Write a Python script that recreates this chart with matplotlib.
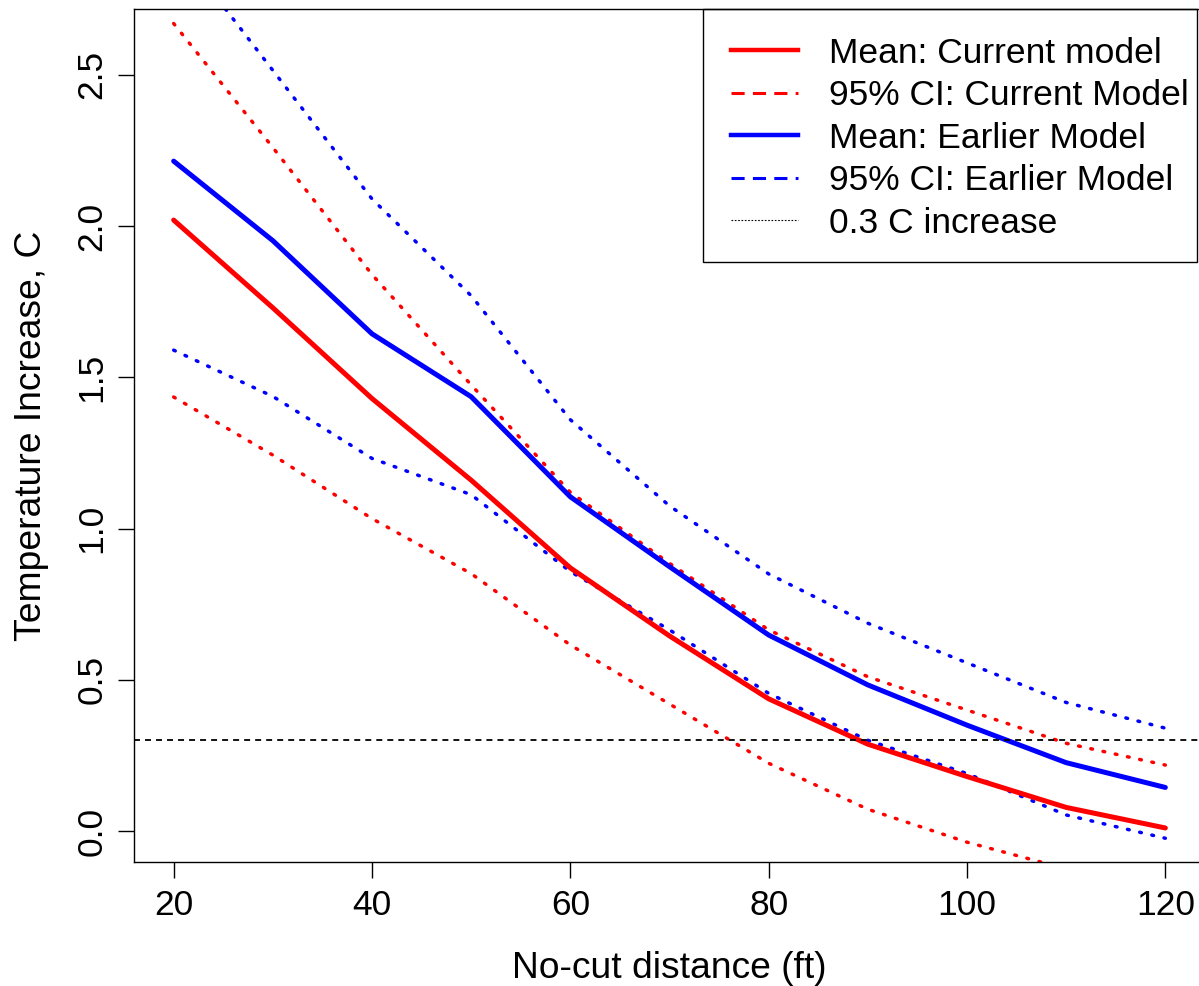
import matplotlib
matplotlib.use("Agg")
import matplotlib.pyplot as plt
from matplotlib.lines import Line2D
from matplotlib.patches import Rectangle

plt.rcParams["font.family"] = ["Liberation Sans", "DejaVu Sans"]

# no-cut distance (ft)
distance = [20, 30, 40, 50, 60, 70, 80, 90, 100, 110, 120]

# current model
mean_current = [2.02, 1.73, 1.43, 1.16, 0.87, 0.645, 0.437, 0.287, 0.180, 0.078, 0.010]
upper_current = [2.67, 2.26, 1.84, 1.475, 1.12, 0.885, 0.665, 0.51, 0.40, 0.29, 0.218]
lower_current = [1.435, 1.243, 1.033, 0.851, 0.615, 0.42, 0.224, 0.072, -0.037, -0.125, -0.21]

# earlier model
mean_earlier = [2.215, 1.952, 1.644, 1.436, 1.105, 0.874, 0.648, 0.483, 0.35, 0.226, 0.144]
upper_earlier = [2.94, 2.515, 2.09, 1.77, 1.36, 1.075, 0.85, 0.687, 0.556, 0.425, 0.34]
lower_earlier = [1.59, 1.437, 1.232, 1.112, 0.858, 0.665, 0.455, 0.30, 0.19, 0.053, -0.024]

threshold = 0.3

legend_labels = ["Mean: Current model", "95% CI: Current Model",
                 "Mean: Earlier Model", "95% CI: Earlier Model", "0.3 C increase"]

fs = 25.5
fs_lab = 26.8
W, H = 1199, 986
fig = plt.figure(figsize=(W / 100, H / 100), dpi=100)
ax = fig.add_axes([134 / W, 124 / H, (1205 - 134) / W, (862 - 9) / H])

ci_style = dict(lw=2.5, linestyle=(0, (0.5, 3.1)), dash_capstyle="round")
ax.plot(distance, upper_current, color="red", **ci_style)
ax.plot(distance, lower_current, color="red", **ci_style)
ax.plot(distance, upper_earlier, color="blue", **ci_style)
ax.plot(distance, lower_earlier, color="blue", **ci_style)
ax.plot(distance, mean_earlier, color="blue", lw=3.6, solid_capstyle="round", solid_joinstyle="round")
ax.plot(distance, mean_current, color="red", lw=3.6, solid_capstyle="round", solid_joinstyle="round")
ax.axhline(threshold, color="black", lw=1.3, linestyle=(0, (3.3, 2.8)))

ax.set_xlim(16, 124)
ax.set_ylim(-0.1025, 2.718)
ax.set_xticks([20, 40, 60, 80, 100, 120])
ax.set_yticks([0.0, 0.5, 1.0, 1.5, 2.0, 2.5])
ax.set_yticklabels(["0.0", "0.5", "1.0", "1.5", "2.0", "2.5"])
ax.tick_params(axis="both", labelsize=fs, length=11.3, width=1.0, direction="out")
ax.tick_params(axis="x", pad=8)
ax.tick_params(axis="y", pad=7, labelrotation=90)
for lab in ax.get_yticklabels():
    lab.set_va("center")
for sp in ax.spines.values():
    sp.set_linewidth(1.0)

ax.set_xlabel("No-cut distance (ft)", fontsize=fs_lab, labelpad=21)
ax.set_ylabel("Temperature Increase, C", fontsize=fs_lab, labelpad=19)

handles = [
    Line2D([], [], color="red", lw=3.2),
    Line2D([], [], color="red", lw=2.2, linestyle=(0, (4.3, 2.7))),
    Line2D([], [], color="blue", lw=3.2),
    Line2D([], [], color="blue", lw=2.2, linestyle=(0, (4.3, 2.7))),
    Line2D([], [], color="black", lw=0.8, linestyle=(0, (1.5, 1.5))),
]
fig.legend(handles, legend_labels, loc="upper left",
           bbox_to_anchor=(703 / W, (H - 9) / H), fontsize=fs,
           frameon=False, handlelength=1.89, handletextpad=0.88,
           labelspacing=0.27, borderpad=0.78, borderaxespad=0)
# legend box, flush with the top of the plot
fig.patches.append(Rectangle((703 / W, (H - 262) / H), 494 / W, 253 / H,
                             transform=fig.transFigure, facecolor="none",
                             edgecolor="black", lw=1.0, zorder=5))

fig.savefig("out.png", dpi=100)
